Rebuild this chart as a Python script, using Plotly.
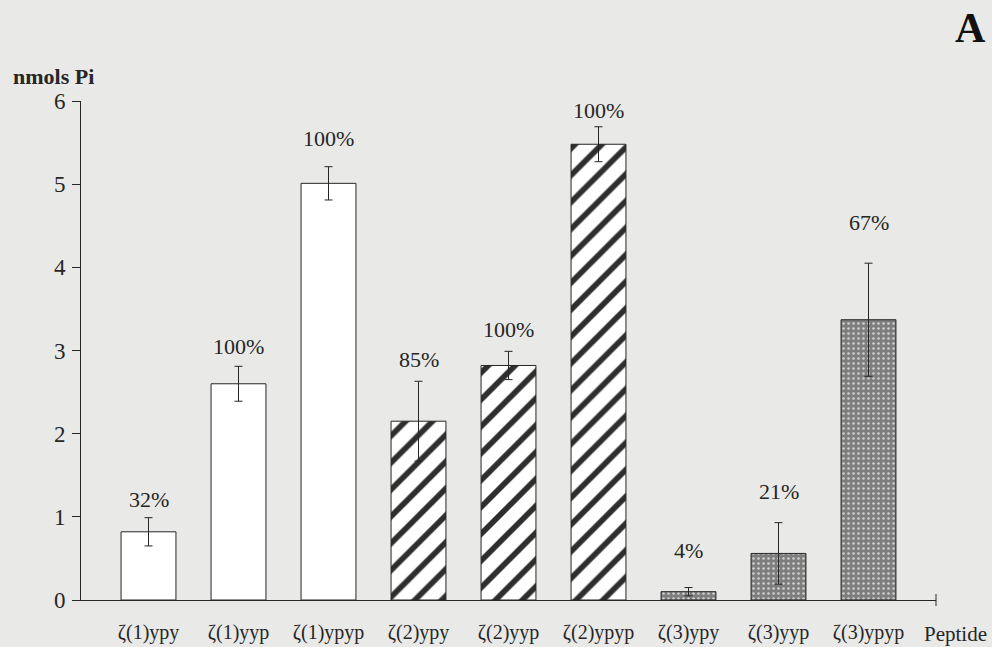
import plotly.graph_objects as go

# Phosphate released per peptide (nmols Pi), with standard errors
peptides = ["ζ(1)ypy", "ζ(1)yyp", "ζ(1)ypyp",
            "ζ(2)ypy", "ζ(2)yyp", "ζ(2)ypyp",
            "ζ(3)ypy", "ζ(3)yyp", "ζ(3)ypyp"]
nmols_pi = [0.82, 2.60, 5.01, 2.15, 2.82, 5.48, 0.10, 0.56, 3.37]
errors = [0.17, 0.21, 0.20, 0.48, 0.17, 0.21, 0.05, 0.37, 0.68]
percent_labels = ["32%", "100%", "100%", "85%", "100%", "100%", "4%", "21%", "67%"]
groups = ["ζ(1)", "ζ(1)", "ζ(1)", "ζ(2)", "ζ(2)", "ζ(2)", "ζ(3)", "ζ(3)", "ζ(3)"]
y_ticks = [0, 1, 2, 3, 4, 5, 6]

# fill style for each ζ group
group_style = {
    "ζ(1)": dict(shape="", fg="#2b2b2b", bg="#ffffff", size=10, solidity=0.3),
    "ζ(2)": dict(shape="/", fg="#2e2e2e", bg="#ffffff", size=19, solidity=0.3),
    "ζ(3)": dict(shape=".", fg="#d0d0d0", bg="#7e7e7e", size=5, solidity=0.2),
}
# label lift above the error-bar cap, in pixels
label_lift = [18, 20, 28, 22, 22, 16, 37, 31, 41]

ink = "#262626"
paper = "#e9e9e7"
serif = "Liberation Serif, Times New Roman, serif"

xs = list(range(len(peptides)))

fig = go.Figure()
for g, st in group_style.items():
    idx = [i for i, gg in enumerate(groups) if gg == g]
    fig.add_trace(go.Bar(
        x=[xs[i] for i in idx],
        y=[nmols_pi[i] for i in idx],
        width=0.61,
        marker=dict(
            color=st["bg"],
            line=dict(color=ink, width=1),
            pattern=dict(shape=st["shape"], fgcolor=st["fg"], bgcolor=st["bg"],
                         size=st["size"], solidity=st["solidity"], fgopacity=1),
        ),
        error_y=dict(type="data", array=[errors[i] for i in idx], visible=True,
                     color=ink, thickness=1, width=4),
        name=g,
        showlegend=False,
        hoverinfo="skip",
    ))

for i, (v, e, txt) in enumerate(zip(nmols_pi, errors, percent_labels)):
    fig.add_annotation(
        x=i, y=v + e, text=txt, showarrow=False,
        yanchor="middle", yshift=label_lift[i],
        font=dict(family=serif, size=22, color=ink),
    )

fig.add_annotation(
    x=-0.082, y=1.050, xref="paper", yref="paper", text="<b>nmols Pi</b>",
    showarrow=False, xanchor="left", yanchor="middle",
    font=dict(family=serif, size=22, color=ink),
)
fig.add_annotation(
    x=1.061, y=1.146, xref="paper", yref="paper", text="<b>A</b>",
    showarrow=False, xanchor="right", yanchor="middle",
    font=dict(family=serif, size=42, color="#111111"),
)
fig.add_annotation(
    x=1.062, y=-0.068, xref="paper", yref="paper", text="Peptide",
    showarrow=False, xanchor="right", yanchor="middle",
    font=dict(family=serif, size=21, color=ink),
)

# closing tick at the right end of the category axis
fig.add_shape(type="line", xref="x domain", yref="y domain",
              x0=1, x1=1, y0=-0.012, y1=0.012,
              line=dict(color=ink, width=1))

fig.update_layout(
    width=992, height=647,
    margin=dict(l=81, r=56, t=101, b=47),
    barmode="overlay",
    paper_bgcolor=paper,
    plot_bgcolor=paper,
    font=dict(family=serif, color=ink),
)
fig.update_xaxes(
    range=[-0.75, len(peptides) - 0.25],
    tickvals=xs, ticktext=peptides,
    showgrid=False, zeroline=False, automargin=False,
    showline=True, linecolor=ink, linewidth=1,
    ticks="", ticklabelstandoff=14,
    tickfont=dict(family=serif, size=20, color=ink),
)
fig.update_yaxes(
    range=[0, 6], tickvals=y_ticks,
    showgrid=False, zeroline=False, automargin=False,
    showline=True, linecolor=ink, linewidth=1,
    ticks="outside", ticklen=8, tickcolor=ink, tickwidth=1,
    ticklabelstandoff=2,
    tickfont=dict(family=serif, size=23, color=ink),
)

fig.write_html("out.html")
